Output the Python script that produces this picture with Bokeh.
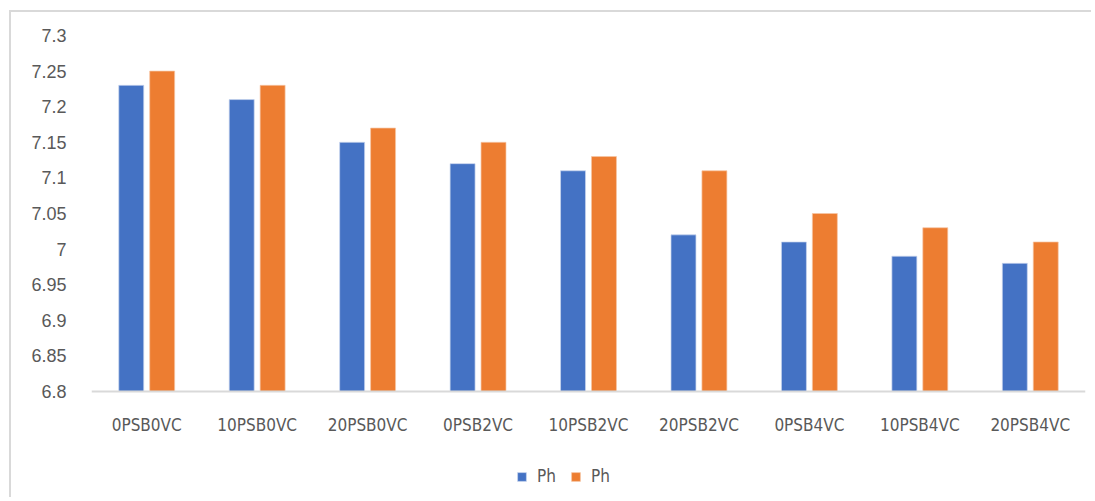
from bokeh.plotting import figure
from bokeh.models import Range1d, FactorRange, Legend, LegendItem, FixedTicker, ColumnDataSource
from bokeh.transform import dodge
from bokeh.embed import file_html
from bokeh.resources import INLINE

categories = ["0PSB0VC", "10PSB0VC", "20PSB0VC", "0PSB2VC", "10PSB2VC",
              "20PSB2VC", "0PSB4VC", "10PSB4VC", "20PSB4VC"]
ph_blue = [7.23, 7.21, 7.15, 7.12, 7.11, 7.02, 7.01, 6.99, 6.98]
ph_orange = [7.25, 7.23, 7.17, 7.15, 7.13, 7.11, 7.05, 7.03, 7.01]
y_ticks = [6.8, 6.85, 6.9, 6.95, 7.0, 7.05, 7.1, 7.15, 7.2, 7.25, 7.3]
series_names = ["Ph", "Ph"]
y_min, y_max = 6.8, 7.3

src = ColumnDataSource(dict(cat=categories, a=ph_blue, b=ph_orange))

NARROW = "'Liberation Sans Narrow', 'DejaVu Sans Condensed', sans-serif"

# layout: canvas 487 px tall, frame from 23 px to bottom; value axis spans 356 px
H, TOP, AXIS_PX = 487, 23, 356
frame_h = H - TOP
y_lo = y_max - frame_h * (y_max - y_min) / AXIS_PX

p = figure(width=1082, height=H, x_range=FactorRange(*categories, range_padding=0),
           y_range=Range1d(y_lo, y_max), output_backend="svg", toolbar_location=None,
           min_border_left=80, min_border_right=8, min_border_top=TOP, min_border_bottom=0)
p.outline_line_color = None
p.xgrid.visible = False
p.ygrid.visible = False
p.background_fill_color = "white"
p.border_fill_color = "white"
p.styles = {"border-left": "2px solid #d9d9d9", "border-top": "2px solid #d9d9d9",
            "margin-left": "9px", "margin-top": "10px"}

r1 = p.vbar(x=dodge("cat", -0.14, range=p.x_range), top="a", bottom=y_min, width=0.226,
            source=src, fill_color="#4472C4", line_color="#c9d5ee", line_width=0.7)
r2 = p.vbar(x=dodge("cat", 0.14, range=p.x_range), top="b", bottom=y_min, width=0.226,
            source=src, fill_color="#ED7D31", line_color="#f6c5a5", line_width=0.7)

p.xaxis.fixed_location = y_min
p.xaxis.axis_line_color = "#D9D9D9"
p.xaxis.axis_line_width = 2
p.xaxis.major_tick_line_color = None
p.xaxis.minor_tick_line_color = None
p.xaxis.major_label_text_font = NARROW
p.xaxis.major_label_text_font_size = "17px"
p.xaxis.major_label_text_color = "#595959"
p.xaxis.major_label_standoff = 17

p.yaxis.ticker = FixedTicker(ticks=y_ticks)
p.yaxis.axis_line_color = None
p.yaxis.major_tick_line_color = None
p.yaxis.minor_tick_line_color = None
p.yaxis.major_label_text_font = "Liberation Sans"
p.yaxis.major_label_text_font_size = "18px"
p.yaxis.major_label_text_color = "#595959"
p.yaxis.major_label_standoff = 19

legend = Legend(items=[LegendItem(label=series_names[0], renderers=[r1]),
                       LegendItem(label=series_names[1], renderers=[r2])],
                orientation="horizontal", location=(425, 13))
legend.glyph_width = 11
legend.glyph_height = 11
legend.label_standoff = 10
legend.spacing = 13
legend.padding = 0
legend.margin = 0
legend.border_line_color = None
legend.background_fill_alpha = 0
legend.label_text_font = NARROW
legend.label_text_font_size = "17px"
legend.label_text_color = "#595959"
p.add_layout(legend, "center")

open("out.html", "w").write(file_html(p, INLINE))
